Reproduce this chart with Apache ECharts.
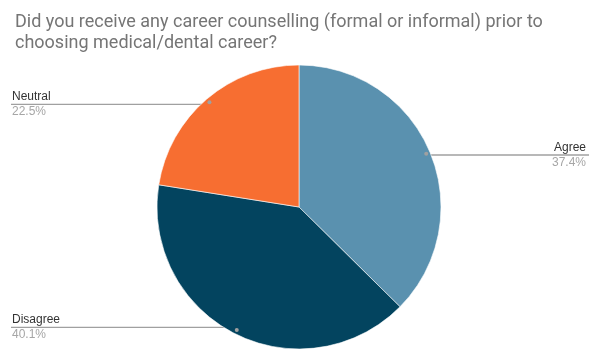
<!DOCTYPE html>
<html>
<head>
<meta charset="utf-8">
<script src="https://cdn.jsdelivr.net/npm/echarts@6/dist/echarts.min.js"></script>
<style>
  html, body { margin: 0; padding: 0; background: #fff; }
  #chart { width: 589px; height: 349px; }
</style>
</head>
<body>
<div id="chart"></div>
<script>
// Survey answers and their shares (%)
const categories = ['Agree', 'Disagree', 'Neutral'];
const shares = [37.4, 40.1, 22.5];
const sliceColors = ['#5a91af', '#03445f', '#f76e31'];
const titleText = 'Did you receive any career counselling (formal or informal) prior to\nchoosing medical/dental career?';

const CX = 299, CY = 207, R = 142;
const W = 589;

const chart = echarts.init(document.getElementById('chart'), null, { renderer: 'canvas' });

const pieData = categories.map((name, i) => ({
  name: name,
  value: shares[i],
  itemStyle: { color: sliceColors[i] }
}));

const option = {
  animation: false,
  title: {
    text: titleText,
    left: 10,
    top: 7,
    textStyle: {
      fontFamily: 'Roboto, Arial, sans-serif',
      fontSize: 18,
      fontWeight: 'normal',
      color: '#757575',
      lineHeight: 21
    }
  },
  series: [
    {
      type: 'pie',
      center: [CX, CY],
      radius: R,
      startAngle: 90,
      clockwise: true,
      data: pieData,
      itemStyle: { borderColor: '#ffffff', borderWidth: 0.6 },
      label: {
        show: true,
        position: 'outside',
        formatter: p => '{n|' + p.name + '}\n{p|' + p.value.toFixed(1) + '%}',
        rich: {
          n: { fontFamily: 'Liberation Sans, Arial, sans-serif', fontSize: 12, color: '#333333', lineHeight: 15 },
          p: { fontFamily: 'Liberation Sans, Arial, sans-serif', fontSize: 12, color: '#a6a6a6', lineHeight: 15 }
        }
      },
      labelLine: {
        show: true,
        length: 5,
        length2: 5,
        lineStyle: { color: '#a0a0a0', width: 1.3 }
      },
      labelLayout: function (params) {
        const pts = params.labelLinePoints;
        const ex = pts[0][0], ey = pts[0][1];
        const px = CX + (ex - CX) * 0.95;
        const py = CY + (ey - CY) * 0.95;
        const right = ex > CX;
        const endX = right ? W : 11;
        return {
          x: right ? 586 : 12,
          y: py,
          align: right ? 'right' : 'left',
          verticalAlign: 'middle',
          labelLinePoints: [[px, py], [px, py], [endX, py]]
        };
      }
    },
    {
      // marker dots where the leader lines start
      type: 'pie',
      silent: true,
      center: [CX, CY],
      radius: [R * 0.9, R],
      startAngle: 90,
      clockwise: true,
      data: pieData.map(d => ({ name: d.name, value: d.value, itemStyle: { color: 'rgba(0,0,0,0)' } })),
      label: {
        show: true,
        position: 'inside',
        formatter: '{d| }',
        rich: {
          d: { width: 4, height: 4, lineHeight: 4, fontSize: 1, borderRadius: 2, backgroundColor: '#a0a0a0' }
        }
      },
      labelLine: { show: false },
      z: 3
    }
  ]
};

chart.setOption(option);
</script>
</body>
</html>
